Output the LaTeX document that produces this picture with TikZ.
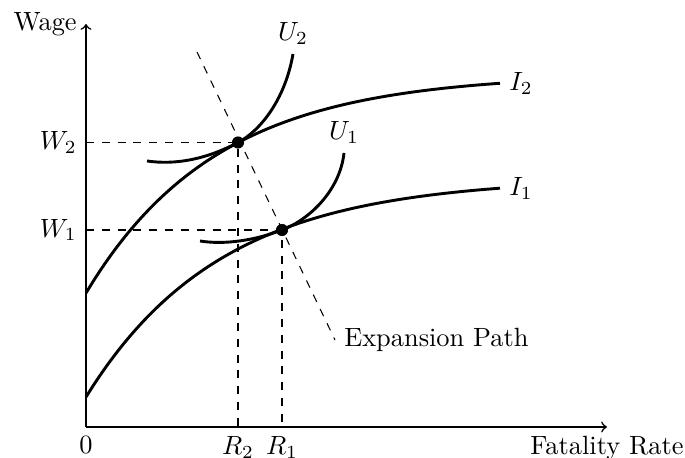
\documentclass[tikz,border=0pt]{standalone}
\begin{document}
\begin{tikzpicture}[x=0.379pt,y=-0.379pt,
  axis/.style={line width=0.6pt,->},
  curve/.style={line width=1.1pt},
  guide/.style={line width=0.4pt,dashed},
  dot/.style={circle,fill=black,inner sep=0pt,minimum size=4.6pt}]
\useasboundingbox (0,0) rectangle (685,458);
% axes
\coordinate (O) at (86,427);
\coordinate (X) at (607,427);
\coordinate (Y) at (86,24);
\draw[axis] (O) -- (X);
\draw[axis] (O) -- (Y);
\node[below] (xlab) at (X) {Fatality Rate};
\node[left] (ylab) at (Y) {Wage};
\node[below] (zero) at (O) {0};
% equilibrium points
\coordinate (E2) at (238,142.5);
\coordinate (E1) at (282,230);
% guide lines
\draw[guide] (O |- E2) -- (E2) -- (O -| E2);
\draw[guide] (O |- E1) -- (E1) -- (O -| E1);
\node[left] (w2) at (O |- E2) {$W_2$};
\node[left] (w1) at (O |- E1) {$W_1$};
\node[below] (r2) at (O -| E2) {$R_2$};
\node[below] (r1) at (O -| E1) {$R_1$};
% expansion path
\coordinate (P1) at (197,52);
\coordinate (P2) at (335,340);
\draw[guide] (P1) -- (P2);
\node[right] (ep) at (P2) {Expansion Path};
% isoprofit curves
\draw[curve] plot[domain=0:414,samples=120,variable=\t] ({86+\t},{293-219*(1-exp(-\t/131))}) coordinate (I2end);
\draw[curve] plot[domain=0:414,samples=120,variable=\t] ({86+\t},{397-219*(1-exp(-\t/135))}) coordinate (I1end);
\node[right] (i2) at (I2end) {$I_2$};
\node[right] (i1) at (I1end) {$I_1$};
% indifference curves
\coordinate (U2s) at (147,161);
\coordinate (U2e) at (293,54);
\coordinate (U1s) at (200,241);
\coordinate (U1e) at (344,153);
\draw[curve] (U2s) .. controls (175,165) and (205,159.8) .. (E2)
  .. controls (260,131) and (285,100) .. (U2e);
\draw[curve] (U1s) .. controls (225,245) and (255,240.3) .. (E1)
  .. controls (310,219.4) and (340,190) .. (U1e);
\node[above] (u2) at (U2e) {$U_2$};
\node[above] (u1) at (U1e) {$U_1$};
% dots
\node[dot] (d2) at (E2) {};
\node[dot] (d1) at (E1) {};
\end{tikzpicture}
\end{document}
